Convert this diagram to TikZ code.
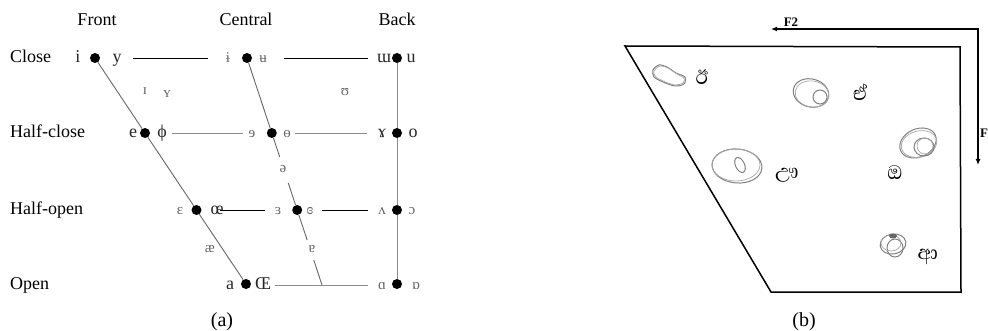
\documentclass[tikz,border=0pt]{standalone}
\usepackage{fontspec}
\setmainfont{Liberation Serif}
\newfontfamily\sinhalafont[Script=Sinhala]{Abhaya Libre}
\usetikzlibrary{arrows.meta}
\begin{document}
\begin{tikzpicture}[x=1pt,y=-1pt,
  lab/.style={font=\fontsize{18}{18}\selectfont, inner sep=0pt, anchor=base},
  ipa/.style={font=\fontsize{18}{18}\selectfont, inner sep=0pt, anchor=base, text=black!85},
  ipas/.style={font=\fontsize{15}{15}\selectfont, inner sep=0pt, anchor=base, text=black!60},
  captext/.style={font=\fontsize{20}{20}\selectfont, inner sep=0pt, anchor=base},
  dot/.style={circle, fill=black, inner sep=0pt, minimum size=10pt},
  blk/.style={line width=0.8pt, black},
  gry/.style={line width=0.9pt, black!45},
  diag/.style={line width=0.9pt, black!60},
  frame/.style={line width=1.5pt, black},
  axis/.style={line width=1.5pt, black},
  scrib/.style={line width=1pt, black!50},
  scrib2/.style={line width=0.7pt, black!35},
  sin/.style={font=\sinhalafont\fontsize{25}{25}\selectfont, inner sep=0pt},
  axlab/.style={font=\bfseries\fontsize{13}{13}\selectfont, inner sep=0pt, anchor=base},
]
\useasboundingbox (0,0) rectangle (988,331);

% ---------- (a) vowel chart ----------
\node[lab] (hfront) at (97,26) {Front};
\node[lab] (hcentral) at (246,26) {Central};
\node[lab] (hback) at (397,26) {Back};

\node[lab, anchor=base west] (rclose) at (10,63) {Close};
\node[lab, anchor=base west] (rhclose) at (10,138) {Half-close};
\node[lab, anchor=base west] (rhopen) at (10,215) {Half-open};
\node[lab, anchor=base west] (ropen) at (10,289) {Open};

% dots
\node[dot] (fi)  at (95,58) {};
\node[dot] (fhc) at (145,133) {};
\node[dot] (fho) at (196.5,210) {};
\node[dot] (fo)  at (246,284) {};
\node[dot] (cc)  at (247,58) {};
\node[dot] (chc) at (271.8,133) {};
\node[dot] (cho) at (297.2,210) {};
\node[dot] (bc)  at (397,58) {};
\node[dot] (bhc) at (397,133) {};
\node[dot] (bho) at (397,210) {};
\node[dot] (bo)  at (397,284) {};
\coordinate (cb) at (322,285);

% vowel symbols
\node[ipa]  (vi)  at (78,63) {i};
\node[ipa]  (vy)  at (117,63) {y};
\node[ipas] (vib) at (228,63) {ɨ};
\node[ipas] (vub) at (263,63) {ʉ};
\node[ipa]  (vw)  at (384,63) {ɯ};
\node[ipa]  (vu)  at (411,63) {u};
\node[ipas] (vI)  at (145,95) {ɪ};
\node[ipas] (vY)  at (167,98) {ʏ};
\node[ipas] (vU)  at (345,96) {ʊ};
\node[ipa]  (ve)  at (133,138) {e};
\node[ipa]  (vo2) at (162,138) {ϕ};
\node[ipas] (vre) at (252,138) {ɘ};
\node[ipas] (vbo) at (287,138) {ɵ};
\node[ipa]  (vram) at (382,138) {ɤ};
\node[ipa]  (vo)  at (413,138) {o};
\node[ipas] (vschwa) at (283,173) {ə};
\node[ipas] (veps) at (180,215) {ɛ};
\node[ipa]  (voe) at (217,215) {œ};
\node[ipas] (vrev) at (278,215) {ɜ};
\node[ipas] (vcre) at (310,215) {ɞ};
\node[ipas] (vwedge) at (382,215) {ʌ};
\node[ipas] (vopo) at (412,215) {ɔ};
\node[ipas] (vae) at (210,253) {æ};
\node[ipas] (vturna) at (312,253) {ɐ};
\node[ipa]  (va)  at (230,289) {a};
\node[ipa]  (vOE) at (263,289) {Œ};
\node[ipas] (valpha) at (382,289) {ɑ};
\node[ipas] (vturnalpha) at (416,289) {ɒ};

% horizontal lines
\coordinate (l1a) at (133,58);  \coordinate (l1b) at (208,58);
\coordinate (l2a) at (284,58);  \coordinate (l2b) at (368,58);
\coordinate (l3a) at (172,133); \coordinate (l3b) at (243,133);
\coordinate (l4a) at (295,133); \coordinate (l4b) at (367,133);
\coordinate (l5a) at (220,210); \coordinate (l5b) at (265,210);
\coordinate (l6a) at (322,210); \coordinate (l6b) at (368,210);
\coordinate (l7a) at (275,285); \coordinate (l7b) at (368,285);
\draw[blk] (l1a) -- (l1b);
\draw[blk] (l2a) -- (l2b);
\draw[gry] (l3a) -- (l3b);
\draw[gry] (l4a) -- (l4b);
\draw[blk] (l5a) -- (l5b);
\draw[blk] (l6a) -- (l6b);
\draw[gry] (l7a) -- (l7b);

% front diagonal
\draw[diag] (fi) -- (fhc) -- (fho) -- (fo);
% central line, broken at schwa and turned a
\path (cc.center) -- (cb)
  coordinate[pos=0.436] (cs1)
  coordinate[pos=0.551] (cs2)
  coordinate[pos=0.802] (cs3)
  coordinate[pos=0.890] (cs4);
\draw[diag] (cc) -- (chc) -- (cs1);
\draw[diag] (cs2) -- (cho) -- (cs3);
\draw[diag] (cs4) -- (cb);
% back vertical
\draw[gry] (bc) -- (bhc) -- (bho) -- (bo);

\node[captext] (capa) at (222,326) {(a)};

% ---------- (b) formant plot ----------
\coordinate (tl) at (625,46);
\coordinate (tr) at (960,47);
\coordinate (br) at (961,292);
\coordinate (bl) at (771,292);
\draw[frame] (tl) -- (tr) -- (br) -- (bl) -- cycle;

\coordinate (ax) at (978,29);
\coordinate (f2tip) at (771,29);
\coordinate (ftip) at (978,165);
\draw[axis, {Latex[length=6pt,width=5pt]}-{Latex[length=6pt,width=5pt]}] (f2tip) -- (ax) -- (ftip);
\node[axlab] (lf2) at (791,27) {F2};
\node[axlab, anchor=base west] (lf1) at (980,138) {F};

% vowel clusters (sketched)
\draw[scrib] plot[smooth cycle] coordinates {(653,70) (659,65) (667,67) (676,73) (685,77) (684,84) (675,86) (663,82) (654,77)};
\draw[scrib2] plot[smooth cycle] coordinates {(654,71) (660,66) (668,68) (677,74) (684,78) (683,83) (675,85) (663,81) (655,76)};

\draw[scrib] (811,93) ellipse[x radius=18, y radius=14, rotate=-15];
\draw[scrib2] (812,94) ellipse[x radius=17, y radius=13, rotate=-10];
\draw[scrib] (820,97) circle[radius=7];

\draw[scrib] (737,166) ellipse[x radius=25, y radius=17, rotate=-5];
\draw[scrib2] (736,165) ellipse[x radius=24, y radius=16];
\draw[scrib] (740,165) ellipse[x radius=4.5, y radius=8, rotate=25];

\draw[scrib] (918,143) ellipse[x radius=19, y radius=14, rotate=25];
\draw[scrib2] (919,144) ellipse[x radius=18, y radius=13, rotate=15];
\draw[scrib] (924,147) ellipse[x radius=10, y radius=9];
\draw[scrib2] (925,146) ellipse[x radius=8, y radius=8];

\draw[scrib] (893,244) ellipse[x radius=13, y radius=10, rotate=10];
\draw[scrib] (895,248) ellipse[x radius=8, y radius=9];
\draw[scrib2] (891,243) ellipse[x radius=10, y radius=8];
\fill[black!60] (893,236) ellipse[x radius=4, y radius=2.5];

\node[sin] (s1) at (702,77) {ඊ};
\node[sin] (s2) at (860,92) {ඒ};
\node[sin] (s3) at (787,175) {ඌ};
\node[sin] (s4) at (895,173) {ඔ};
\node[sin] (s5) at (928,257) {ආ};

\node[captext] (capb) at (804,326) {(b)};
\end{tikzpicture}
\end{document}
